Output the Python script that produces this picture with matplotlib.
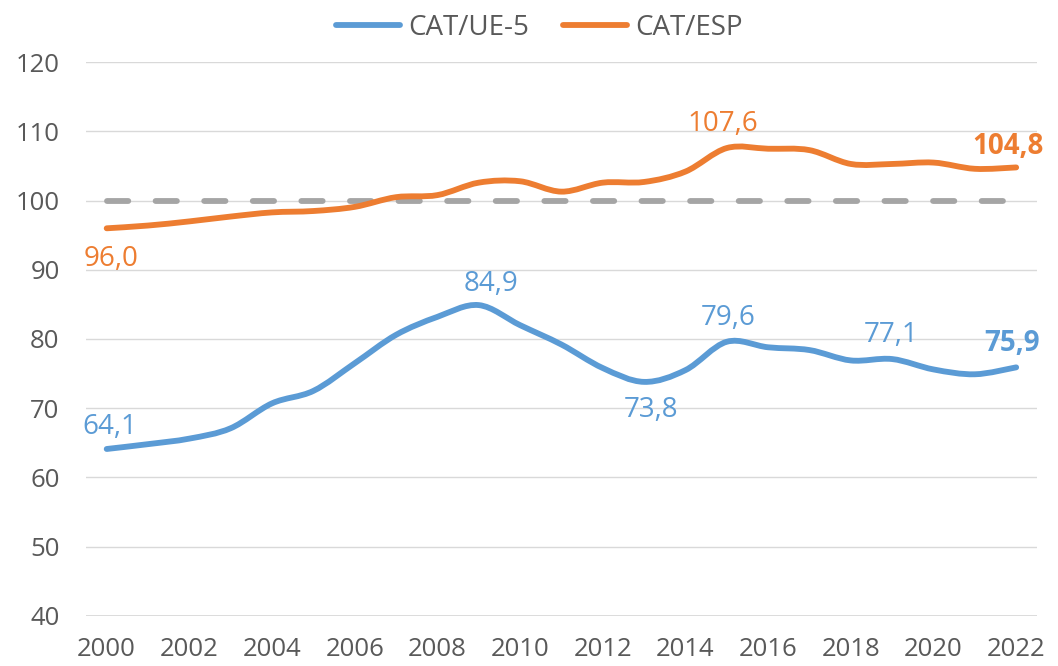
import matplotlib.pyplot as plt
import numpy as np
from matplotlib.path import Path
from matplotlib.patches import PathPatch
from matplotlib.lines import Line2D

plt.rcParams['font.family'] = ['Open Sans', 'DejaVu Sans']

# data
years = list(range(2000, 2023))
cat_ue5 = [64.1, 64.8, 65.6, 67.1, 70.7, 72.5, 76.5, 80.6, 83.2, 84.9, 82.0, 79.2,
           75.8, 73.8, 75.5, 79.6, 78.8, 78.4, 76.9, 77.1, 75.6, 74.9, 75.9]
cat_esp = [96.0, 96.4, 97.0, 97.7, 98.3, 98.5, 99.1, 100.5, 100.8, 102.6, 102.8, 101.3,
           102.6, 102.7, 104.2, 107.6, 107.5, 107.3, 105.3, 105.3, 105.5, 104.6, 104.8]
base = [100.0] * len(years)
xticks = list(range(2000, 2023, 2))

blue = '#5B9BD5'
orange = '#ED7D31'
grey = '#595959'


def smooth_path(x, y):
    # bezier through the points, like excel's smoothed line
    x = np.asarray(x, float)
    y = np.asarray(y, float)
    verts = [(x[0], y[0])]
    codes = [Path.MOVETO]
    n = len(x)
    for i in range(n - 1):
        p0 = (x[max(i - 1, 0)], y[max(i - 1, 0)])
        p1 = (x[i], y[i])
        p2 = (x[i + 1], y[i + 1])
        p3 = (x[min(i + 2, n - 1)], y[min(i + 2, n - 1)])
        c1 = (p1[0] + (p2[0] - p0[0]) / 6, p1[1] + (p2[1] - p0[1]) / 6)
        c2 = (p2[0] - (p3[0] - p1[0]) / 6, p2[1] - (p3[1] - p1[1]) / 6)
        verts += [c1, c2, p2]
        codes += [Path.CURVE4] * 3
    return Path(verts, codes)


fig = plt.figure(figsize=(10.58, 6.66), dpi=100)
ax = fig.add_axes([0.0813, 0.0755, 0.8987, 0.831])

ax.plot(years, base, color='#A5A5A5', lw=4.2, dashes=(3.65, 4.68),
        dash_capstyle='round', zorder=2)

for vals, col in [(cat_ue5, blue), (cat_esp, orange)]:
    ax.add_patch(PathPatch(smooth_path(years, vals), fill=False, edgecolor=col,
                           lw=4.2, capstyle='round', joinstyle='round', zorder=3))

ax.set_xlim(1999.5, 2022.5)
ax.set_ylim(40, 120)
ax.set_yticks(range(40, 121, 10))
ax.set_xticks(xticks)
ax.grid(axis='y', color='#D9D9D9', lw=1)
ax.set_axisbelow(True)
for s in ax.spines.values():
    s.set_visible(False)
ax.axhline(40, color='#D9D9D9', lw=2, zorder=1)
ax.tick_params(length=0, labelsize=18.5, labelcolor=grey)
ax.tick_params(axis='y', pad=19)
ax.tick_params(axis='x', pad=15)

# data labels (year, value, dx, dy in points, bold)
labels_ue5 = [(2000, 2, 16, False), (2009, 9, 15, False), (2013, 5, -20, False),
              (2015, 1, 17, False), (2019, -1, 17, False), (2022, -3, 17, True)]
labels_esp = [(2000, 3, -22, False), (2015, -3, 17, False), (2022, -6, 15, True)]

for vals, col, labs in [(cat_ue5, blue, labels_ue5), (cat_esp, orange, labels_esp)]:
    for yr, dx, dy, bold in labs:
        v = vals[years.index(yr)]
        ax.annotate(f'{v:.1f}'.replace('.', ','), (yr, v), xytext=(dx, dy),
                    textcoords='offset points', ha='center', va='center',
                    fontsize=20, color=col,
                    fontweight='bold' if bold else 'normal')

handles = [Line2D([], [], color=blue, lw=4.2, solid_capstyle='round'),
           Line2D([], [], color=orange, lw=4.2, solid_capstyle='round')]
leg = ax.legend(handles, ['CAT/UE-5', 'CAT/ESP'], loc='center',
                bbox_to_anchor=(0.477, 1.062), ncol=2, frameon=False, fontsize=20,
                handlelength=2.3, handletextpad=0.3, columnspacing=1.2,
                borderpad=0, borderaxespad=0)
for t in leg.get_texts():
    t.set_color(grey)

fig.savefig('out.png', dpi=100)
